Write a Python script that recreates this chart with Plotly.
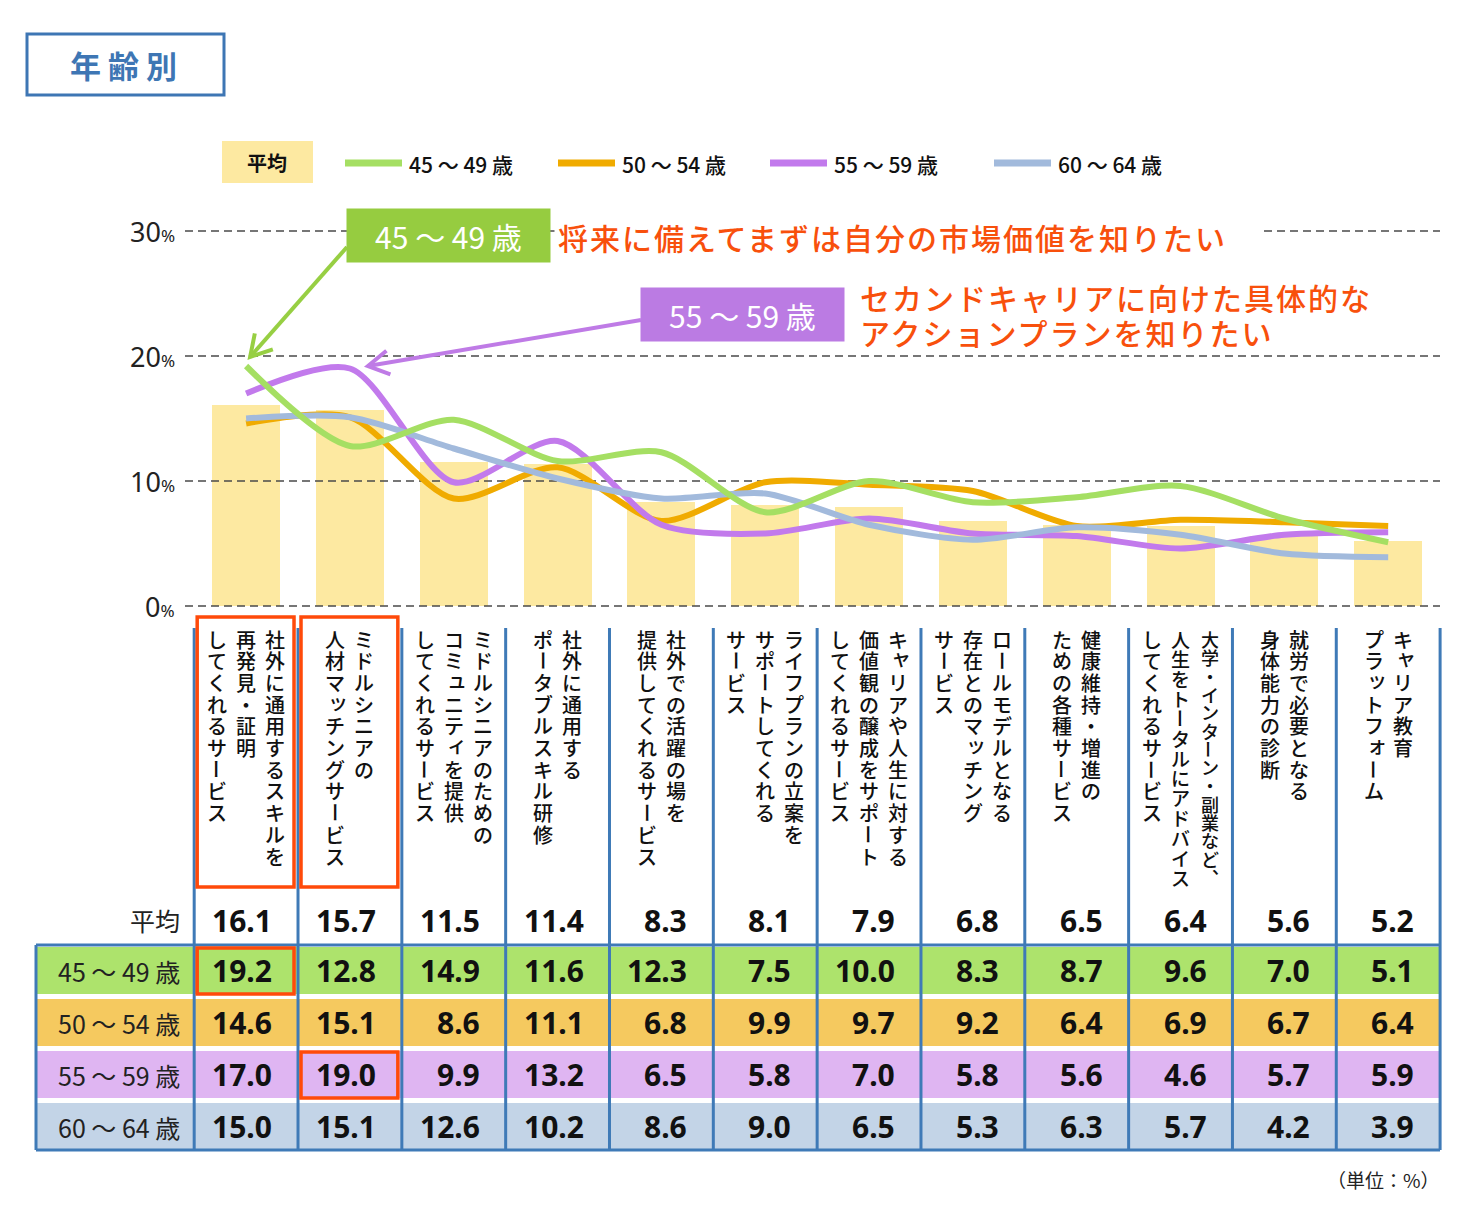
import math
import plotly.graph_objects as go

# ---------------- data ----------------
categories = [
    ["社外に通用するスキルを", "再発見・証明", "してくれるサービス"],
    ["ミドルシニアの", "人材マッチングサービス"],
    ["ミドルシニアのための", "コミュニティを提供", "してくれるサービス"],
    ["社外に通用する", "ポータブルスキル研修"],
    ["社外での活躍の場を", "提供してくれるサービス"],
    ["ライフプランの立案を", "サポートしてくれる", "サービス"],
    ["キャリアや人生に対する", "価値観の醸成をサポート", "してくれるサービス"],
    ["ロールモデルとなる", "存在とのマッチング", "サービス"],
    ["健康維持・増進の", "ための各種サービス"],
    ["大学・インターン・副業など、", "人生をトータルにアドバイス", "してくれるサービス"],
    ["就労で必要となる", "身体能力の診断"],
    ["キャリア教育", "プラットフォーム"],
]
avg = [16.1, 15.7, 11.5, 11.4, 8.3, 8.1, 7.9, 6.8, 6.5, 6.4, 5.6, 5.2]
g45 = [19.2, 12.8, 14.9, 11.6, 12.3, 7.5, 10.0, 8.3, 8.7, 9.6, 7.0, 5.1]
g50 = [14.6, 15.1, 8.6, 11.1, 6.8, 9.9, 9.7, 9.2, 6.4, 6.9, 6.7, 6.4]
g55 = [17.0, 19.0, 9.9, 13.2, 6.5, 5.8, 7.0, 5.8, 5.6, 4.6, 5.7, 5.9]
g60 = [15.0, 15.1, 12.6, 10.2, 8.6, 9.0, 6.5, 5.3, 6.3, 5.7, 4.2, 3.9]
series_names = ["45 ～ 49 歳", "50 ～ 54 歳", "55 ～ 59 歳", "60 ～ 64 歳"]
series_values = [g45, g50, g55, g60]
line_colors = ["#a5df63", "#f0ab00", "#c27aec", "#a2badc"]
row_colors = ["#ade36c", "#f5c95f", "#dfb5f2", "#c3d4e7"]
y_ticks = [0, 10, 20, 30]
avg_label = "平均"
title_text = "年 齢 別"
note1 = "将来に備えてまずは自分の市場価値を知りたい"
note2 = ["セカンドキャリアに向けた具体的な", "アクションプランを知りたい"]
unit_text = "（単位：%）"

# ---------------- geometry ----------------
W, H = 1468, 1224
L, R, T, B = 185, 1440, 230, 607
X0, X1 = -0.5885, 11.499
Y0, Y1 = -0.08, 30.08
JP = "Noto Sans CJK JP"
BLUE = "#3f7ab7"
RED = "#f8500c"


def X(px):
    return (px - L) / (R - L)


def Y(py):
    return (B - py) / (B - T)


def px_of_x(x):
    return L + (x - X0) / (X1 - X0) * (R - L)


annos = []
shapes = []


def ann(px, py, text, size, color="#111", family=JP, xa="center", ya="middle",
        weight=None, **kw):
    f = dict(family=family, size=size, color=color)
    if weight is not None:
        f["weight"] = weight
    d = dict(x=X(px), y=Y(py), xref="paper", yref="paper", xanchor=xa, yanchor=ya,
             showarrow=False, text=text, font=f)
    d.update(kw)
    annos.append(d)


fig = go.Figure()

# bars (average)
fig.add_trace(go.Bar(x=list(range(len(avg))), y=avg, width=0.655,
                     marker=dict(color="#fde9a1", line=dict(width=0)),
                     hoverinfo="skip"))

# dashed grid lines (drawn over bars, under series lines)
for t in y_ticks:
    fig.add_trace(go.Scatter(x=[X0, X1], y=[t, t], mode="lines",
                             line=dict(color="#4a4a4a", width=1.6, dash="8px,5px"),
                             hoverinfo="skip", cliponaxis=False))

# series lines
order = [1, 2, 3, 0]
for idx in order:
    fig.add_trace(go.Scatter(x=list(range(len(avg))), y=series_values[idx],
                             mode="lines", name=series_names[idx],
                             line=dict(color=line_colors[idx], width=6,
                                       shape="spline", smoothing=0.8),
                             hoverinfo="skip"))

# y tick labels
for t in y_ticks:
    annos.append(dict(x=X(177), y=t, xref="paper", yref="y", xanchor="right",
                      yanchor="middle", showarrow=False,
                      text=f"{t}<span style='font-size:17px'>%</span>",
                      font=dict(family="Noto Sans", size=27, color="#222")))

# title box
shapes.append(dict(type="rect", xref="paper", yref="paper", x0=X(27), x1=X(224),
                   y0=Y(95), y1=Y(34), line=dict(color="#3e76b4", width=3)))
ann(123, 64, f"<b>{title_text}</b>", 31, color="#3e76b4")

# legend
shapes.append(dict(type="rect", xref="paper", yref="paper", x0=X(222), x1=X(313),
                   y0=Y(183), y1=Y(141), fillcolor="#fde9a1", line=dict(width=0)))
ann(267, 162, f"<b>{avg_label}</b>", 20)
leg_x = [345, 558, 770, 994]
for i, nm in enumerate(series_names):
    shapes.append(dict(type="line", xref="paper", yref="paper", x0=X(leg_x[i]),
                       x1=X(leg_x[i] + 57), y0=Y(163), y1=Y(163),
                       line=dict(color=line_colors[i], width=7)))
    ann(leg_x[i] + 62, 164, nm, 21, xa="left", weight=500)


# arrows
def arrow(sx, sy, tx, ty, color, width=4, head=24, ang=30):
    dx, dy = tx - sx, ty - sy
    n = math.hypot(dx, dy)
    ux, uy = dx / n, dy / n
    pts = []
    for a in (ang, -ang):
        r = math.radians(a)
        rx = ux * math.cos(r) - uy * math.sin(r)
        ry = ux * math.sin(r) + uy * math.cos(r)
        pts.append((tx - head * rx, ty - head * ry))
    shapes.append(dict(type="line", xref="paper", yref="paper", x0=X(sx), y0=Y(sy),
                       x1=X(tx), y1=Y(ty), line=dict(color=color, width=width)))
    path = (f"M {X(pts[0][0])},{Y(pts[0][1])} L {X(tx)},{Y(ty)} "
            f"L {X(pts[1][0])},{Y(pts[1][1])}")
    shapes.append(dict(type="path", xref="paper", yref="paper", path=path,
                       line=dict(color=color, width=width)))


# highlight: top value per group
i45 = max(range(len(g45)), key=lambda k: g45[k])
i55 = max(range(len(g55)), key=lambda k: g55[k])

arrow(347, 247, px_of_x(i45) + 4, 357, "#97cf43")
arrow(641, 320, px_of_x(i55) + 18, 366, "#bf7be6")

# callout boxes (annotation backgrounds cover gridlines)
ann(448.5, 235.5, series_names[0], 30, color="white", bgcolor="#96cc40",
    width=203, height=53, borderpad=0)
ann(742.5, 314.5, series_names[2], 30, color="white", bgcolor="#bb7be3",
    width=203, height=53, borderpad=0)
ann(554, 237, f"<span style='letter-spacing:2px'>{note1}</span>", 30, color=RED,
    xa="left", weight=500, bgcolor="white", borderpad=3, width=700, align="left")
for j, ln in enumerate(note2):
    ann(858, 297 + 35 * j, f"<span style='letter-spacing:2px'>{ln}</span>", 30,
        color=RED, xa="left", weight=500, height=32)

# vertical category labels (one glyph per annotation, top-to-bottom, right-to-left)
small = set("ッャュョィォァ")
vert_map = {"、": "︑"}
for i, lines in enumerate(categories):
    cx = px_of_x(i)
    n = len(lines)
    for j, line in enumerate(lines):
        lx = cx + ((n - 1) / 2 - j) * 29
        step = min(21.7, 238 / max(len(line) - 1, 1))
        fs = round(min(20, step - 0.5))
        for k, ch in enumerate(line):
            cy = 639 + k * step
            dxs = 3 if ch in small else 0
            dys = -3 if ch in small else 0
            extra = {}
            if ch == "ー":
                extra["textangle"] = 90
            ann(lx + dxs, cy + dys, vert_map.get(ch, ch), fs, weight=500, **extra)

# table backgrounds
ROW_TOP, ROW_STEP, ROW_H = 947, 52, 47
for r_, col in enumerate(row_colors):
    shapes.append(dict(type="rect", xref="paper", yref="paper", x0=X(36), x1=X(1440),
                       y0=Y(ROW_TOP + ROW_STEP * r_ + ROW_H), y1=Y(ROW_TOP + ROW_STEP * r_),
                       fillcolor=col, line=dict(width=0)))
# table lines
for k in range(len(avg) + 1):
    xx = X(px_of_x(k - 0.5))
    shapes.append(dict(type="line", xref="paper", yref="paper", x0=xx, x1=xx,
                       y0=Y(628), y1=Y(1150), line=dict(color=BLUE, width=3)))
shapes.append(dict(type="line", xref="paper", yref="paper", x0=X(36), x1=X(36),
                   y0=Y(945), y1=Y(1150), line=dict(color=BLUE, width=3)))
for yy in (945, 1150):
    shapes.append(dict(type="line", xref="paper", yref="paper", x0=X(36), x1=X(1440),
                       y0=Y(yy), y1=Y(yy), line=dict(color=BLUE, width=3)))

# red highlight boxes
for col_i, r_ in ((i45, 0), (i55, 2)):
    xl = px_of_x(col_i - 0.5) + 3
    xr = px_of_x(col_i + 0.5) - 4
    shapes.append(dict(type="rect", xref="paper", yref="paper", x0=X(xl), x1=X(xr),
                       y0=Y(ROW_TOP + ROW_STEP * r_ + ROW_H), y1=Y(ROW_TOP + ROW_STEP * r_ + 1),
                       line=dict(color="#ff4a0a", width=3.5)))
    shapes.append(dict(type="rect", xref="paper", yref="paper", x0=X(xl), x1=X(xr),
                       y0=Y(887), y1=Y(617), line=dict(color="#ff4a0a", width=3.5)))

# table text
ann(182, 920, avg_label, 25, color="#222", xa="right")
for i, v in enumerate(avg):
    ann(px_of_x(i) + 28, 920, f"<b>{v:.1f}</b>", 30, family="Noto Sans", xa="right")
for r_, (nm, vals) in enumerate(zip(series_names, series_values)):
    cy = ROW_TOP + ROW_STEP * r_ + ROW_H / 2
    ann(182, cy, nm, 25, color="#222", xa="right")
    for i, v in enumerate(vals):
        ann(px_of_x(i) + 28, cy, f"<b>{v:.1f}</b>", 30, family="Noto Sans", xa="right")

ann(1442, 1179, unit_text, 19, color="#222", xa="right")

fig.update_layout(
    width=W, height=H, autosize=False,
    margin=dict(l=L, r=W - R, t=T, b=H - B, pad=0),
    paper_bgcolor="white", plot_bgcolor="white",
    showlegend=False, bargap=0,
    xaxis=dict(range=[X0, X1], visible=False, fixedrange=True),
    yaxis=dict(range=[Y0, Y1], visible=False, fixedrange=True),
    shapes=shapes, annotations=annos,
    font=dict(family=JP),
)

fig.write_html("out.html")
